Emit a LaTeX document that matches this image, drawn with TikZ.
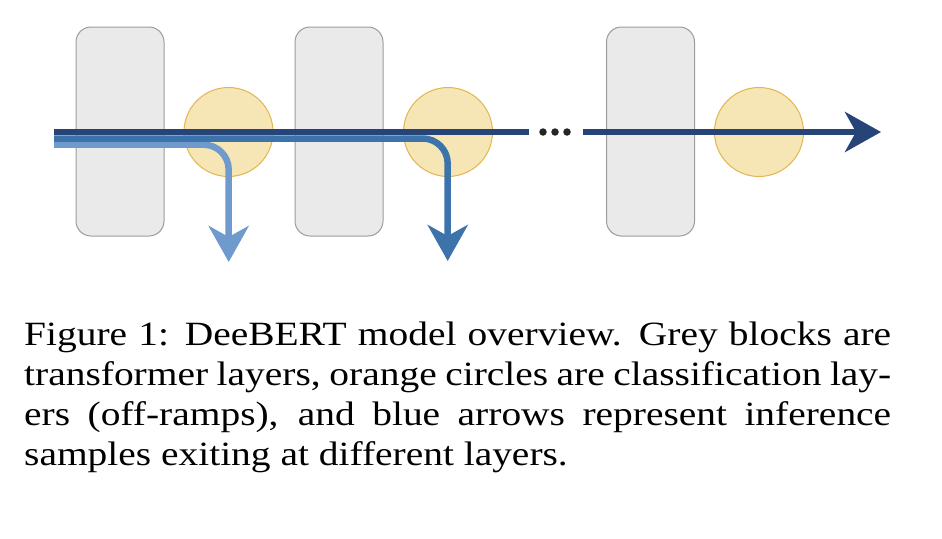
\documentclass[tikz,border=0pt]{standalone}
\usepackage{fontspec}
\setmainfont{Liberation Serif}[FakeStretch=1.16]
\usetikzlibrary{arrows.meta}

\definecolor{darkpath}{HTML}{264478}
\definecolor{midpath}{HTML}{3D73AB}
\definecolor{lightpath}{HTML}{6F9ACD}
\definecolor{rampfill}{HTML}{F7E6B5}
\definecolor{rampline}{HTML}{E2B54F}
\definecolor{layerfill}{HTML}{EAEAEA}
\definecolor{layerline}{HTML}{9C9C9C}

\tikzset{
	layer/.style={draw=layerline, fill=layerfill, line width=1pt, rounded corners=15pt, minimum width=88pt, minimum height=209pt, inner sep=0},
	ramp/.style={circle, draw=rampline, fill=rampfill, line width=1pt, minimum size=89pt, inner sep=0},
	dot/.style={circle, fill=black!85, minimum size=7.5pt, inner sep=0},
	flow/.style={line width=6.5pt, -{Stealth[length=36pt, width=40pt, inset=11pt]}},
	caption/.style={anchor=north west, inner sep=0, text width=867pt, align=justify, font=\fontsize{34}{40}\selectfont}
}

\begin{document}
\begin{tikzpicture}[x=1pt, y=-1pt]
		\useasboundingbox (0,0) rectangle (942,538);
		% transformer layers and off-ramps
		\node[layer] (l1) at (120,131.5) {};
		\node[layer] (l2) at (339,131.5) {};
		\node[layer] (l3) at (650.5,131.5) {};
		\node[ramp] (r1) at (228.5,132) {};
		\node[ramp] (r2) at (448,132) {};
		\node[ramp] (r3) at (759,132) {};
		% ends of the paths
		\coordinate (in1) at (54,144.7);
		\coordinate (in2) at (54,138.5);
		\coordinate (in3) at (54,132);
		\coordinate (out1) at (228.7,262);
		\coordinate (out2) at (447.7,261);
		\coordinate (gap1) at (529,132);
		\coordinate (gap2) at (583,132);
		\coordinate (out3) at (881,132);
		\draw[flow, lightpath, rounded corners=25pt] (in1) -| (out1);
		\draw[flow, midpath, rounded corners=25pt] (in2) -| (out2);
		\draw[line width=6.5pt, darkpath] (in3) -- (gap1);
		\draw[flow, darkpath] (gap2) -- (out3);
		\node[dot] (d1) at (543,132) {};
		\node[dot] (d2) at (555,132) {};
		\node[dot] (d3) at (567,132) {};
		% caption
		\node[caption] (cap) at (24,321.5) {Figure 1: DeeBERT model overview. Grey blocks are\linebreak transformer layers, orange circles are classification lay-\linebreak{}ers (off-ramps), and blue arrows represent inference\linebreak samples exiting at different layers.};
	\end{tikzpicture}
\end{document}
